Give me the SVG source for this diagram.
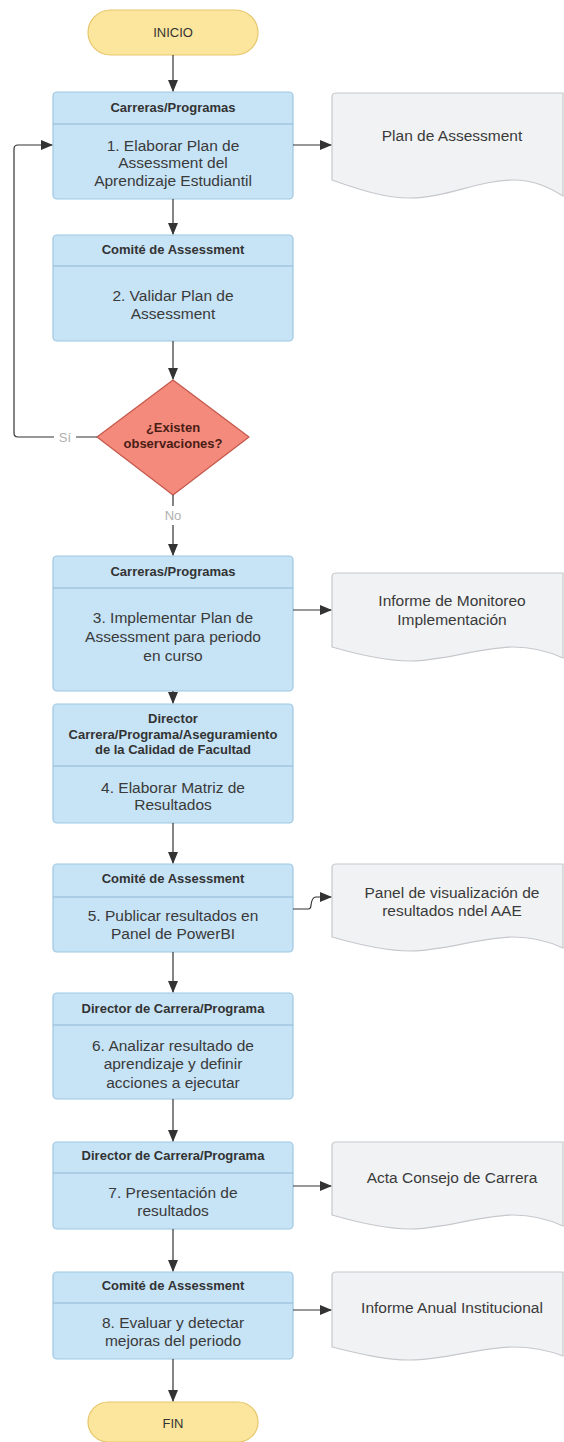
<svg xmlns="http://www.w3.org/2000/svg" width="564" height="1442" viewBox="0 0 564 1442">
<defs>
<marker id="ah" viewBox="0 0 12 10" refX="11" refY="5" markerWidth="12" markerHeight="10" markerUnits="userSpaceOnUse" orient="auto">
<path d="M0,0 L12,5 L0,10 Z" fill="#333"/>
</marker>
<style>
.box{fill:#C7E3F6;stroke:#9EC7E2;stroke-width:1.2}
.div{stroke:#8FB9D6;stroke-width:1}
.doc{fill:#F1F2F4;stroke:#C6C8CC;stroke-width:1.2}
.term{fill:#FCE69D;stroke:#E6C66C;stroke-width:1.2}
.dia{fill:#F48A7B;stroke:#C4574B;stroke-width:1.2}
.hd{font-family:"Liberation Sans",Arial,sans-serif;font-size:13px;font-weight:bold;fill:#333;text-anchor:middle}
.bd{font-family:"Liberation Sans",Arial,sans-serif;font-size:15.5px;fill:#3a3a3a;text-anchor:middle}
.tt{font-family:"Liberation Sans",Arial,sans-serif;font-size:13px;fill:#333;text-anchor:middle}
.dt{font-family:"Liberation Sans",Arial,sans-serif;font-size:13px;font-weight:bold;fill:#4a1c16;text-anchor:middle}
.lb{font-family:"Liberation Sans",Arial,sans-serif;font-size:13px;fill:#b0b0b0;text-anchor:middle}
.cn{fill:none;stroke:#333;stroke-width:1.2}
</style>
</defs>

<g id="inicio">
<rect class="term" x="88" y="10" width="170" height="45" rx="22.5"/>
<text class="tt" x="173" y="37">INICIO</text>
</g>

<g id="step1">
<rect class="box" x="53" y="92" width="240" height="107" rx="4"/>
<line class="div" x1="53" y1="124" x2="293" y2="124"/>
<text class="hd" x="173" y="112">Carreras/Programas</text>
<text class="bd" x="173" y="150.5">1. Elaborar Plan de</text>
<text class="bd" x="173" y="168">Assessment del</text>
<text class="bd" x="173" y="185.5">Aprendizaje Estudiantil</text>
</g>

<g id="doc1">
<path class="doc" d="M336,93 H563 V196 C550,188 535,180 513,180 C480,180 445,198 410,198 C385,198 360,190 332,180 V97 Q332,93 336,93 Z"/>
<text class="bd" x="452" y="140.5">Plan de Assessment</text>
</g>

<g id="step2">
<rect class="box" x="53" y="235" width="240" height="106" rx="4"/>
<line class="div" x1="53" y1="266" x2="293" y2="266"/>
<text class="hd" x="173" y="254">Comité de Assessment</text>
<text class="bd" x="173" y="300.5">2. Validar Plan de</text>
<text class="bd" x="173" y="318.5">Assessment</text>
</g>

<g id="decision">
<path class="dia" d="M173,380 L249,437 L173,495 L97,437 Z" stroke-linejoin="round"/>
<text class="dt" x="173" y="431.5">¿Existen</text>
<text class="dt" x="173" y="447.5">observaciones?</text>
</g>

<g id="step3">
<rect class="box" x="53" y="556" width="240" height="135" rx="4"/>
<line class="div" x1="53" y1="588" x2="293" y2="588"/>
<text class="hd" x="173" y="575.5">Carreras/Programas</text>
<text class="bd" x="173" y="622.5">3. Implementar Plan de</text>
<text class="bd" x="173" y="641.5">Assessment para periodo</text>
<text class="bd" x="173" y="660.5">en curso</text>
</g>

<g id="doc3">
<path class="doc" d="M336,573 H563 V658 C550,652 535,647 513,647 C480,647 445,661 410,661 C385,661 360,655 332,647 V577 Q332,573 336,573 Z"/>
<text class="bd" x="452" y="605.5">Informe de Monitoreo</text>
<text class="bd" x="452" y="624.5">Implementación</text>
</g>

<g id="step4">
<rect class="box" x="53" y="704" width="240" height="119" rx="4"/>
<line class="div" x1="53" y1="766" x2="293" y2="766"/>
<text class="hd" x="173" y="722.5">Director</text>
<text class="hd" x="173" y="738.5">Carrera/Programa/Aseguramiento</text>
<text class="hd" x="173" y="754">de la Calidad de Facultad</text>
<text class="bd" x="173" y="792.5">4. Elaborar Matriz de</text>
<text class="bd" x="173" y="809.5">Resultados</text>
</g>

<g id="step5">
<rect class="box" x="53" y="864" width="240" height="88" rx="4"/>
<line class="div" x1="53" y1="897" x2="293" y2="897"/>
<text class="hd" x="173" y="882.5">Comité de Assessment</text>
<text class="bd" x="173" y="920.5">5. Publicar resultados en</text>
<text class="bd" x="173" y="938.5">Panel de PowerBI</text>
</g>

<g id="doc5">
<path class="doc" d="M336,864 H563 V948 C550,942 535,937 513,937 C480,937 445,951 410,951 C385,951 360,945 332,937 V868 Q332,864 336,864 Z"/>
<text class="bd" x="452" y="897.5">Panel de visualización de</text>
<text class="bd" x="452" y="915.5">resultados ndel AAE</text>
</g>

<g id="step6">
<rect class="box" x="53" y="993" width="240" height="106" rx="4"/>
<line class="div" x1="53" y1="1025" x2="293" y2="1025"/>
<text class="hd" x="173" y="1012.5">Director de Carrera/Programa</text>
<text class="bd" x="173" y="1050.5">6. Analizar resultado de</text>
<text class="bd" x="173" y="1068.5">aprendizaje y definir</text>
<text class="bd" x="173" y="1087.5">acciones a ejecutar</text>
</g>

<g id="step7">
<rect class="box" x="53" y="1142" width="240" height="87" rx="4"/>
<line class="div" x1="53" y1="1173" x2="293" y2="1173"/>
<text class="hd" x="173" y="1159.5">Director de Carrera/Programa</text>
<text class="bd" x="173" y="1197.5">7. Presentación de</text>
<text class="bd" x="173" y="1215.5">resultados</text>
</g>

<g id="doc7">
<path class="doc" d="M336,1142 H563 V1226 C550,1220 535,1215 513,1215 C480,1215 445,1229 410,1229 C385,1229 360,1223 332,1215 V1146 Q332,1142 336,1142 Z"/>
<text class="bd" x="452" y="1182.5">Acta Consejo de Carrera</text>
</g>

<g id="step8">
<rect class="box" x="53" y="1272" width="240" height="87" rx="4"/>
<line class="div" x1="53" y1="1303" x2="293" y2="1303"/>
<text class="hd" x="173" y="1289.5">Comité de Assessment</text>
<text class="bd" x="173" y="1327.5">8. Evaluar y detectar</text>
<text class="bd" x="173" y="1345.5">mejoras del periodo</text>
</g>

<g id="doc8">
<path class="doc" d="M336,1272 H563 V1356 C550,1351 535,1347 513,1347 C480,1347 445,1360 410,1360 C385,1360 360,1354 332,1347 V1276 Q332,1272 336,1272 Z"/>
<text class="bd" x="452" y="1312.5">Informe Anual Institucional</text>
</g>

<g id="fin">
<rect class="term" x="88" y="1402" width="170" height="40" rx="20"/>
<text class="tt" x="173" y="1427.5">FIN</text>
</g>

<g id="connectors">
<line class="cn" x1="173" y1="55" x2="173" y2="91" marker-end="url(#ah)"/>
<line class="cn" x1="293" y1="145" x2="331" y2="145" marker-end="url(#ah)"/>
<line class="cn" x1="173" y1="199" x2="173" y2="234" marker-end="url(#ah)"/>
<line class="cn" x1="173" y1="341" x2="173" y2="379" marker-end="url(#ah)"/>
<path class="cn" d="M97,437 H76 M54,437 H18 Q14,437 14,433 V149 Q14,145 18,145 H52" marker-end="url(#ah)"/>
<text class="lb" x="65" y="441.5">Sí</text>
<path class="cn" d="M173,495 V506 M173,525 V555" marker-end="url(#ah)"/>
<text class="lb" x="173" y="520">No</text>
<line class="cn" x1="293" y1="610" x2="331" y2="610" marker-end="url(#ah)"/>
<line class="cn" x1="173" y1="691" x2="173" y2="703" marker-end="url(#ah)"/>
<line class="cn" x1="173" y1="823" x2="173" y2="863" marker-end="url(#ah)"/>
<path class="cn" d="M293,909 H308 Q311,909 311,905 Q312,897 316,897 H331" marker-end="url(#ah)"/>
<line class="cn" x1="173" y1="952" x2="173" y2="992" marker-end="url(#ah)"/>
<line class="cn" x1="173" y1="1099" x2="173" y2="1141" marker-end="url(#ah)"/>
<line class="cn" x1="293" y1="1186" x2="331" y2="1186" marker-end="url(#ah)"/>
<line class="cn" x1="173" y1="1229" x2="173" y2="1271" marker-end="url(#ah)"/>
<line class="cn" x1="293" y1="1310" x2="331" y2="1310" marker-end="url(#ah)"/>
<line class="cn" x1="173" y1="1359" x2="173" y2="1401" marker-end="url(#ah)"/>
</g>
</svg>
